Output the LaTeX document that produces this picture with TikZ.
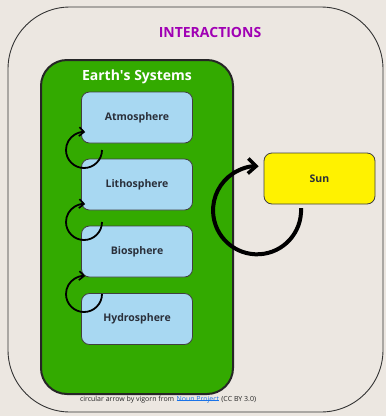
\documentclass[tikz,border=0pt]{standalone}
\usepackage{fontspec}
\setmainfont{Open Sans}
\usetikzlibrary{arrows.meta}
\definecolor{paper}{HTML}{ECE7E1}
\definecolor{earthgreen}{HTML}{33AA00}
\definecolor{skyblue}{HTML}{A8D8F2}
\definecolor{sunyellow}{HTML}{FFF200}
\definecolor{titlepurple}{HTML}{A000B4}
\definecolor{inkdark}{HTML}{2A2F3A}
\definecolor{linkblue}{HTML}{1A73E8}
\tikzset{
  sphere/.style={draw=black!75, line width=0.8pt, fill=skyblue, rounded corners=8pt,
    minimum width=111pt, minimum height=51pt, inner sep=0pt,
    font=\fontsize{10.5}{12}\selectfont\bfseries, text=inkdark},
  cycle/.style={line width=1.8pt, -{Straight Barb[length=5pt, width=9pt, line width=1.6pt]}},
  bigcycle/.style={line width=4pt, -{Straight Barb[length=8pt, width=15pt, line width=3.5pt]}},
  credittext/.style={font=\fontsize{7}{8}\selectfont, inner sep=0pt, outer sep=0pt}
}
\begin{document}
\begin{tikzpicture}[x=1pt, y=-1pt]
  % page background and outer frame
  \fill[paper] (0,0) rectangle (386,416);
  \draw[black!80, line width=0.9pt, rounded corners=62pt] (8,7) rectangle (383,412);
  \node[font=\fontsize{14}{16}\selectfont\bfseries, text=titlepurple] (title) at (210,32) {INTERACTIONS};

  % the Earth's systems panel
  \draw[black!85, line width=2pt, fill=earthgreen, rounded corners=26pt] (41,60) rectangle (233,394);
  \node[font=\fontsize{14}{16}\selectfont\bfseries, text=white] (panel) at (137,77) {Earth\textquotesingle s Systems};

  \node[sphere] (atmo)  at (137,117.5) {Atmosphere};
  \node[sphere] (litho) at (137,184.5) {Lithosphere};
  \node[sphere] (bio)   at (137,251.5) {Biosphere};
  \node[sphere] (hydro) at (137,319)   {Hydrosphere};

  % the Sun
  \node[draw=black!75, line width=0.8pt, fill=sunyellow, rounded corners=8pt,
        minimum width=111pt, minimum height=51pt, inner sep=0pt,
        font=\fontsize{10.5}{12}\selectfont\bfseries, text=inkdark] (sun) at (319.5,178.5) {Sun};

  % circular arrows between neighbouring spheres
  \coordinate (c1) at (102,150);
  \coordinate (c2) at (102,222);
  \coordinate (c3) at (102,294);
  \draw[cycle] (c1) arc[start angle=0, end angle=-274, radius=18pt];
  \draw[cycle] (c2) arc[start angle=0, end angle=-274, radius=18pt];
  \draw[cycle] (c3) arc[start angle=0, end angle=-274, radius=18pt];

  % circular arrow between the Earth and the Sun
  \coordinate (c4) at (301,208);
  \draw[bigcycle] (c4) arc[start angle=3, end angle=-272, radius=44pt];

  % credit line with its underlined link
  \node[credittext, text=black!85, anchor=base west] (credit) at (80,401) {circular arrow by vigorn from};
  \node[credittext, text=linkblue, anchor=base west, xshift=2.3pt] (link) at (credit.base east) {Noun Project};
  \node[credittext, text=black!85, anchor=base west, xshift=2.3pt] (licence) at (link.base east) {(CC BY 3.0)};
  \draw[linkblue, line width=0.5pt] ([yshift=1.2pt]link.base west) -- ([yshift=1.2pt]link.base east);
\end{tikzpicture}
\end{document}
